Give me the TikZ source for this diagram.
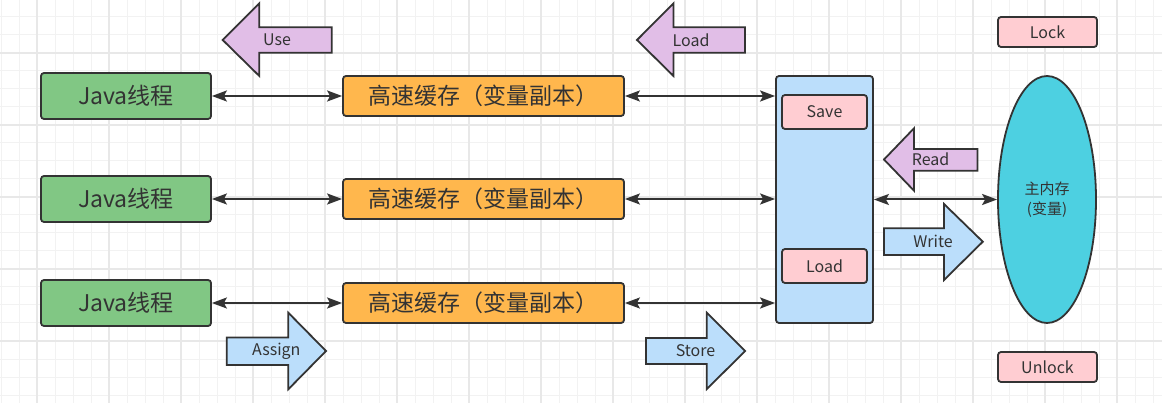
\documentclass[tikz,border=0pt]{standalone}
\usepackage{fontspec}
\setmainfont{Noto Sans CJK SC}
\usetikzlibrary{arrows.meta,shapes.geometric}
\definecolor{linec}{HTML}{333333}
\definecolor{txt}{HTML}{333333}
\definecolor{gmin}{HTML}{F2F2F2}
\definecolor{gmaj}{HTML}{E8E8E8}
\definecolor{greenf}{HTML}{81C784}
\definecolor{orangef}{HTML}{FFB74D}
\definecolor{bluef}{HTML}{BBDEFB}
\definecolor{pinkf}{HTML}{FFCDD2}
\definecolor{purpf}{HTML}{E1BEE7}
\definecolor{cyanf}{HTML}{4DD0E1}
\begin{document}
\begin{tikzpicture}[x=1pt,y=-1pt,
  box/.style={draw=linec, line width=1.8pt, rounded corners=3pt, inner sep=0pt, text=txt},
  jbox/.style={box, fill=greenf, minimum width=170pt, minimum height=46pt, font=\fontsize{23}{26}\selectfont},
  cbox/.style={box, fill=orangef, minimum width=281pt, minimum height=40pt, font=\fontsize{23}{26}\selectfont},
  pbox/.style={box, fill=pinkf, font=\fontsize{16}{18}\selectfont},
  blk/.style={draw=linec, line width=1.8pt, line join=miter},
  lbl/.style={text=txt, inner sep=0pt, font=\fontsize{16}{18}\selectfont},
  conn/.style={draw=linec, line width=2pt, arrows={Stealth[length=15pt,width=11pt,inset=3pt]-Stealth[length=15pt,width=11pt,inset=3pt]}}]
\useasboundingbox (0,0) rectangle (1162,403);
\fill[white] (0,0) rectangle (1162,403);
% grid
\foreach \x in {1,19,...,1162} \draw[gmin, line width=1pt] (\x,0) -- (\x,403);
\foreach \y in {17,35,...,403} \draw[gmin, line width=1pt] (0,\y) -- (1162,\y);
\foreach \x in {37,109,...,1162} \draw[gmaj, line width=1.3pt] (\x,0) -- (\x,403);
\foreach \y in {53,125,...,403} \draw[gmaj, line width=1.3pt] (0,\y) -- (1162,\y);

% Java threads
\node[jbox] (j1) at (126,96) {Java线程};
\node[jbox] (j2) at (126,199) {Java线程};
\node[jbox] (j3) at (126,303) {Java线程};
% caches
\node[cbox] (c1) at (483.5,96) {高速缓存（变量副本）};
\node[cbox] (c2) at (483.5,199) {高速缓存（变量副本）};
\node[cbox] (c3) at (483.5,303) {高速缓存（变量副本）};
% working memory block
\node[box, fill=bluef, minimum width=97pt, minimum height=247pt] (wm) at (824.5,199.5) {};
\node[pbox, minimum width=85pt, minimum height=34pt] (save) at (824.5,112) {Save};
\node[pbox, minimum width=85pt, minimum height=34pt] (wload) at (824.5,266) {Load};
% main memory
\node[draw=linec, line width=1.8pt, fill=cyanf, ellipse, minimum width=98pt, minimum height=247pt, inner sep=0pt, align=center, text=txt, font=\fontsize{15}{19.5}\selectfont] (mm) at (1047,199.5) {主内存\\(变量)};
\node[pbox, minimum width=99pt, minimum height=30pt] (lock) at (1047.5,32) {Lock};
\node[pbox, minimum width=99pt, minimum height=30pt] (unlock) at (1047.5,367) {Unlock};

% connectors
\draw[conn] (j1.east) -- (c1.west);
\draw[conn] (j2.east) -- (c2.west);
\draw[conn] (j3.east) -- (c3.west);
\draw[conn] (c1.east) -- (c1.east -| wm.west);
\draw[conn] (c2.east) -- (c2.east -| wm.west);
\draw[conn] (c3.east) -- (c3.east -| wm.west);
\draw[conn] (wm.east) -- (mm.west);

% block arrows
\draw[blk, fill=purpf] (222.7,40) -- (259.3,3.3) -- (259.3,27.3) -- (331.7,27.3) -- (331.7,52.7) -- (259.3,52.7) -- (259.3,76) -- cycle;
\node[lbl] (use) at (277,40) {Use};
\draw[blk, fill=purpf] (637,40) -- (673.5,3.3) -- (673.5,27.3) -- (745,27.3) -- (745,52.7) -- (673.5,52.7) -- (673.5,76) -- cycle;
\node[lbl] (load) at (691,40) {Load};
\draw[blk, fill=purpf] (884,159.5) -- (914,128.3) -- (914,149) -- (977.4,149) -- (977.4,170.7) -- (914,170.7) -- (914,190.7) -- cycle;
\node[lbl] (read) at (930.5,159.5) {Read};
\draw[blk, fill=bluef] (982.8,241.7) -- (944,204) -- (944,228.3) -- (884,228.3) -- (884,255) -- (944,255) -- (944,280) -- cycle;
\node[lbl] (write) at (933,241.7) {Write};
\draw[blk, fill=bluef] (745.2,351) -- (706.8,312.7) -- (706.8,338) -- (645.9,338) -- (645.9,364) -- (706.8,364) -- (706.8,389) -- cycle;
\node[lbl] (store) at (695.5,351) {Store};
\draw[blk, fill=bluef] (326,351) -- (288.3,312.7) -- (288.3,337.5) -- (226.7,337.5) -- (226.7,365) -- (288.3,365) -- (288.3,389.3) -- cycle;
\node[lbl] (assign) at (276.3,351) {Assign};
\end{tikzpicture}
\end{document}
